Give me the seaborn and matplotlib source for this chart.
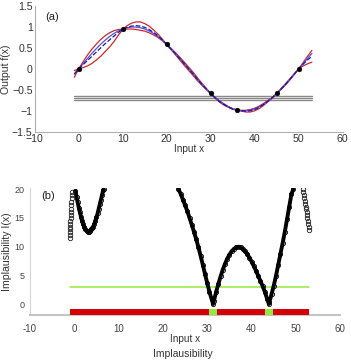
import numpy as np
import pandas as pd
import matplotlib
matplotlib.use("Agg")
import matplotlib.pyplot as plt
import seaborn as sns

# ---- panel (a): emulator of f(x) ----
x_grid = np.arange(-1, 54)
f_true = [-0.125, 0.0, 0.125, 0.249, 0.368, 0.482, 0.588, 0.685, 0.771, 0.844,
          0.905, 0.951, 0.982, 0.998, 0.998, 0.982, 0.951, 0.905, 0.844, 0.771,
          0.685, 0.588, 0.482, 0.368, 0.249, 0.125, 0.0, -0.125, -0.249, -0.368,
          -0.482, -0.588, -0.685, -0.771, -0.844, -0.905, -0.951, -0.982, -0.998, -0.998,
          -0.982, -0.951, -0.905, -0.844, -0.771, -0.685, -0.588, -0.482, -0.368, -0.249,
          -0.125, 0.0, 0.125, 0.249, 0.368]
em_mean = [-0.12, 0.0, 0.10, 0.20, 0.30, 0.40, 0.50, 0.60, 0.69, 0.78,
           0.87, 0.94, 0.99, 1.02, 1.03, 1.02, 0.99, 0.94, 0.87, 0.79,
           0.69, 0.58, 0.47, 0.36, 0.24, 0.12, 0.0, -0.12, -0.25, -0.37,
           -0.48, -0.59, -0.69, -0.78, -0.85, -0.91, -0.96, -0.985, -1.0, -1.01,
           -1.0, -0.97, -0.92, -0.85, -0.77, -0.69, -0.59, -0.48, -0.37, -0.25,
           -0.125, 0.0, 0.11, 0.21, 0.30]
em_spread = [0.08, 0.0, 0.07, 0.13, 0.17, 0.19, 0.20, 0.19, 0.17, 0.13,
             0.07, 0.0, 0.04, 0.07, 0.09, 0.10, 0.09, 0.08, 0.06, 0.04,
             0.02, 0.0, 0.015, 0.025, 0.035, 0.04, 0.04, 0.04, 0.035, 0.025,
             0.015, 0.0, 0.01, 0.015, 0.015, 0.01, 0.005, 0.0, 0.01, 0.02,
             0.03, 0.03, 0.03, 0.025, 0.015, 0.01, 0.0, 0.01, 0.015, 0.015,
             0.01, 0.0, 0.04, 0.09, 0.14]
x_train = [0, 10, 20, 30, 36, 45, 50]
y_train = [0.0, 0.951, 0.588, -0.588, -0.982, -0.588, 0.0]
z_obs = [-0.645, -0.70, -0.755]

# ---- panel (b): implausibility ----
# steep column left of x=0 (only markers visible)
s1_x = [-1.0, -0.98, -0.96, -0.94, -0.92, -0.9, -0.87, -0.84, -0.81, -0.78,
        -0.74, -0.70, -0.66, -0.61, -0.56, -0.5]
s1_I = [11.5, 12.0, 12.5, 13.0, 13.5, 14.0, 14.5, 15.0, 15.5, 16.0,
        16.6, 17.2, 17.8, 18.4, 19.0, 19.6]
s2_x = [0.25, 0.5, 0.75, 1.0, 1.25, 1.5, 1.75, 2.0, 2.25, 2.5, 2.75, 3.0, 3.25,
        3.5, 3.75, 4.0, 4.25, 4.5, 4.75, 5.0, 5.25, 5.5, 5.75, 6.0, 6.25, 6.5, 6.6]
s2_I = [19.7, 18.7, 17.7, 16.8, 16.0, 15.2, 14.5, 13.9, 13.4, 13.0, 12.75, 12.6, 12.6,
        12.75, 13.0, 13.2, 13.5, 13.9, 14.5, 15.1, 15.8, 16.6, 17.4, 18.2, 19.0, 19.8, 20.0]
s3_x = [23.5, 24.0, 24.5, 25.0, 25.5, 26.0, 26.5, 27.0, 27.5, 28.0, 28.5, 29.0,
        29.5, 30.0, 30.5, 31.0, 31.3, 31.5, 32.0, 32.5, 33.0, 33.5, 34.0, 34.5,
        35.0, 35.5, 36.0, 36.5, 37.0, 37.5, 38.0, 38.5, 39.0, 39.5, 40.0, 40.5,
        41.0, 41.5, 42.0, 42.5, 43.0, 43.5, 43.9, 44.0, 44.5, 45.0, 45.5, 46.0,
        46.5, 47.0, 47.5, 48.0, 48.5, 49.0, 49.4]
s3_I = [20.0, 19.2, 18.2, 17.2, 16.2, 15.0, 13.8, 12.6, 11.3, 9.9, 8.4, 6.8,
        5.2, 3.6, 2.1, 0.8, 0.0, 0.6, 2.1, 3.5, 4.8, 6.0, 7.0, 7.9,
        8.6, 9.2, 9.6, 9.9, 10.0, 9.9, 9.6, 9.2, 8.7, 8.1, 7.4, 6.6,
        5.8, 4.9, 4.0, 3.1, 2.1, 0.9, 0.0, 0.3, 1.7, 3.2, 4.9, 6.8,
        8.7, 10.6, 12.6, 14.8, 17.0, 19.2, 20.0]
s4_x = [51.6, 51.7, 51.8, 51.9, 52.0, 52.1, 52.2, 52.3, 52.4, 52.5, 52.6, 52.7,
        52.8, 52.9, 53.0]
s4_I = [20.0, 19.5, 19.0, 18.5, 18.0, 17.5, 17.0, 16.5, 16.0, 15.5, 15.0, 14.5,
        14.0, 13.5, 12.9]
cutoff = 3
bar_edges = [-1, 30.5, 32.3, 43.0, 44.8, 53]
bar_plausible = [False, True, False, True, False]

red = "#d40000"
green = "#94ea3c"

sns.set_style("white")
plt.rcParams["font.family"] = ["Liberation Sans", "DejaVu Sans"]
fig = plt.figure(figsize=(3.51, 3.61), dpi=100)
ax1 = fig.add_axes([0.0989, 0.6352, 0.8775, 0.3482])
ax2 = fig.add_axes([0.0855, 0.1261, 0.8838, 0.3543])

upper = np.array(em_mean) + np.array(em_spread)
lower = np.array(em_mean) - np.array(em_spread)
for yv in z_obs:
    sns.lineplot(x=[x_grid[0], x_grid[-1]], y=[yv, yv], color="#8a8a8a", lw=1, ax=ax1)
sns.lineplot(x=x_grid, y=upper, color="#cc2a2a", lw=0.9, ax=ax1)
sns.lineplot(x=x_grid, y=lower, color="#cc2a2a", lw=0.9, ax=ax1)
sns.lineplot(x=x_grid, y=f_true, color="#5a4de0", lw=0.9, ax=ax1)
sns.lineplot(x=x_grid, y=em_mean, color="#1a1a9a", lw=0.9, linestyle="--", ax=ax1)
sns.scatterplot(x=x_train, y=y_train, color="black", s=12, edgecolor="black", zorder=5, ax=ax1)

ax1.set_xlim(-10, 60)
ax1.set_ylim(-1.5, 1.5)
ax1.set_xticks(range(-10, 61, 10))
ax1.set_xticklabels(["−10", "0", "10", "20", "30", "40", "50", "60"])
ax1.set_yticks([-1.5, -1, -0.5, 0, 0.5, 1, 1.5])
ax1.set_yticklabels(["−1.5", "−1", "−0.5", "0", "0.5", "1", "1.5"])
ax1.tick_params(direction="in", length=3, width=0.6, labelsize=7.6, colors="#333333", pad=1.5)
ax1.set_xlabel("Input x", fontsize=7.2, color="#333333", labelpad=0.5)
ax1.set_ylabel("Output f(x)", fontsize=7.6, color="#333333", labelpad=0.5)
ax1.text(0.035, 0.89, "(a)", transform=ax1.transAxes, fontsize=8, color="#222222")
for side in ["top", "right"]:
    ax1.spines[side].set_visible(False)
ax1.spines["left"].set_color("#b0b0b0")
ax1.spines["bottom"].set_color("#b0b0b0")

# panel (b)
for i in range(len(bar_plausible)):
    ax2.fill_between([bar_edges[i], bar_edges[i + 1]], -1.95, -0.9,
                     color=green if bar_plausible[i] else red, lw=0, zorder=3)
sns.lineplot(x=[bar_edges[0], bar_edges[-1]], y=[cutoff, cutoff], color=green, lw=1.1, ax=ax2)
for sx, sI in [(s2_x, s2_I), (s3_x, s3_I)]:
    sns.lineplot(x=sx, y=sI, color="black", lw=2.8, marker="o", markersize=3,
                 markerfacecolor="none", markeredgecolor="black", markeredgewidth=0.6, ax=ax2)
for sx, sI in [(s1_x, s1_I), (s4_x, s4_I)]:
    sns.lineplot(x=sx, y=sI, color="black", lw=0, marker="o", markersize=3.2,
                 markerfacecolor="none", markeredgecolor="#222222", markeredgewidth=0.6, ax=ax2)

ax2.set_xlim(-10, 60)
ax2.set_ylim(-2, 20.3)
ax2.set_xticks(range(-10, 61, 10))
ax2.set_xticklabels(["-10", "0", "10", "20", "30", "40", "50", "60"])
ax2.set_yticks([0, 5, 10, 15, 20])
ax2.set_yticklabels(["0", "5", "10", "15", "20"])
ax2.tick_params(direction="in", length=3, width=0.6, colors="#444444")
ax2.tick_params(axis="x", labelsize=7, pad=6)
ax2.tick_params(axis="y", labelsize=6.5, pad=4)
ax2.set_xlabel("Input x", fontsize=7.2, color="#333333", labelpad=0)
ax2.set_ylabel("Implausibility I(x)", fontsize=7.6, color="#333333", labelpad=1.5)
ax2.text(0.035, 0.91, "(b)", transform=ax2.transAxes, fontsize=8, color="#222222")
for side in ["top", "right"]:
    ax2.spines[side].set_visible(False)
ax2.spines["left"].set_color("#d6d6d6")
ax2.spines["bottom"].set_color("#c4c4c4")
ax2.spines["bottom"].set_linewidth(1.5)

fig.text(0.52, 0.012, "Implausibility", ha="center", va="baseline", fontsize=7.5, color="#333333")

fig.savefig("out.png", dpi=100)
